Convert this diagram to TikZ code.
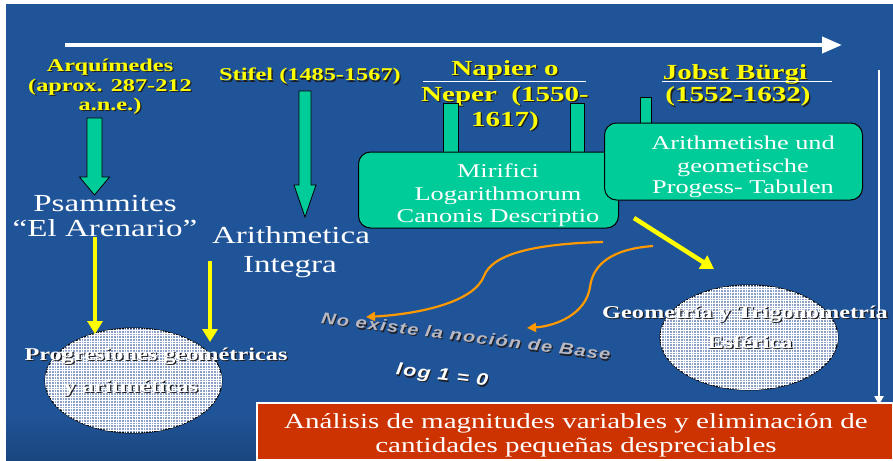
\documentclass[tikz,border=0pt]{standalone}
\usepackage{fontspec}
\setmainfont{Liberation Serif}[FakeStretch=1.35]
\newfontfamily\rotfont{Liberation Sans}[FakeStretch=1.25,LetterSpace=8]
\usetikzlibrary{arrows.meta,patterns}
\definecolor{bgdark}{RGB}{8,34,62}
\definecolor{bgmid}{RGB}{32,84,152}
\definecolor{bgtop}{RGB}{10,32,55}
\definecolor{gfill}{RGB}{0,204,153}
\definecolor{yel}{RGB}{255,255,0}
\definecolor{org}{RGB}{255,153,0}
\definecolor{redb}{RGB}{204,51,0}
\definecolor{ellfill}{RGB}{140,160,200}
\definecolor{shad}{RGB}{30,30,35}
\definecolor{rotgrey}{RGB}{185,185,195}
\pgfdeclareverticalshading{bgshade}{100bp}{color(0bp)=(bgdark); color(12bp)=(bgdark); color(30bp)=(bgmid); color(75bp)=(bgmid); color(90bp)=(bgtop); color(100bp)=(bgtop)}
\pgfdeclarepatternformonly{finegrid}{\pgfqpoint{-1pt}{-1pt}}{\pgfqpoint{4pt}{4pt}}{\pgfqpoint{2.7pt}{2.7pt}}{%
  \pgfsetlinewidth{0.9pt}%
  \pgfpathmoveto{\pgfqpoint{0pt}{0pt}}\pgfpathlineto{\pgfqpoint{0pt}{2.71pt}}%
  \pgfpathmoveto{\pgfqpoint{0pt}{0pt}}\pgfpathlineto{\pgfqpoint{2.71pt}{0pt}}%
  \pgfusepath{stroke}}
\newcommand\tnode[4]{\node[#1,text=shad,xshift=1.3pt,yshift=-1.3pt] at (#3) {#4};\node[#1] (#2) at (#3) {#4};}
\begin{document}
\begin{tikzpicture}[x=1pt,y=-1pt,
  every node/.style={inner sep=0pt,outer sep=0pt},
  ylab/.style={text=yel,anchor=base,font=\bfseries\fontsize{18}{20}\selectfont},
  nlab/.style={text=yel,anchor=base,font=\bfseries\fontsize{21.5}{24}\selectfont},
  wbig/.style={text=white,anchor=base,font=\fontsize{24.5}{28}\selectfont},
  wbox/.style={text=white,anchor=base,font=\fontsize{19.5}{22}\selectfont},
  wbot/.style={text=white,anchor=base,font=\fontsize{21.5}{24}\selectfont},
  ellab/.style={text=white,anchor=base,font=\bfseries\fontsize{18}{20}\selectfont},
  rotlab/.style={text=rotgrey,anchor=center,font=\rotfont\bfseries\itshape\fontsize{16}{18}\selectfont},
  loglab/.style={text=white,anchor=center,font=\rotfont\bfseries\itshape\fontsize{17}{19}\selectfont},
  gbox/.style={draw=black,line width=1pt,fill=gfill,rounded corners=12pt},
  garr/.style={draw=black,line width=0.8pt,fill=gfill},
  yarr/.style={draw=yel,line width=4.5pt,-{Triangle[length=13pt,width=15pt]}},
  oarr/.style={draw=org,line width=2.2pt,-{Triangle[length=9pt,width=9pt]}},
  ellsty/.style={draw=black,line width=1pt,fill=ellfill,postaction={pattern=finegrid,pattern color=white}},
]
\useasboundingbox (0,0) rectangle (893,460);
\fill[white] (0,0) rectangle (893,460);
\shade[shading=bgshade] (6,5) rectangle (893,460);

% timeline arrows
\coordinate (ta) at (65,45); \coordinate (tb) at (842,45);
\draw[white,line width=4pt,-{Triangle[length=20pt,width=16pt]}] (ta) -- (tb);
\coordinate (va) at (879,70); \coordinate (vb) at (879,405);
\draw[white,line width=2pt,-{Triangle[length=9pt,width=9pt]}] (va) -- (vb);

% yellow labels
\tnode{ylab}{arq1}{110,71}{Arquímedes}
\tnode{ylab}{arq2}{110,91}{(aprox. 287-212}
\tnode{ylab}{arq3}{110,110}{a.n.e.)}
\tnode{ylab}{stif}{310,81}{Stifel (1485-1567)}
\tnode{nlab}{nap1}{505,75}{Napier o}
\tnode{nlab}{nap2}{505,101.5}{Neper\ \ (1550-}
\tnode{nlab}{nap3}{505,126}{1617)}
\tnode{nlab}{job1}{735,79}{Jobst Bürgi}
\tnode{nlab}{job2}{738,101.7}{(1552-1632)}
\coordinate (nu1) at (423,81); \coordinate (nu2) at (586,81);
\draw[white,line width=0.9pt] (nu1) -- (nu2);
\coordinate (ju1) at (662,81); \coordinate (ju2) at (832,81);
\draw[white,line width=0.9pt] (ju1) -- (ju2);

% green block arrows
\draw[garr] (87,118) -- (102,118) -- (102,177) -- (109.5,177) -- (94.5,195) -- (79.5,177) -- (87,177) -- cycle;
\draw[garr] (299,91) -- (311,91) -- (311,185) -- (316,185) -- (305,217) -- (294,185) -- (299,185) -- cycle;

% stems
\draw[garr] (443.5,103) rectangle (458,160);
\draw[garr] (570,103) rectangle (584,160);
\draw[garr] (640,97) rectangle (651,130);

% green boxes
\node[gbox,minimum width=260pt,minimum height=76pt] (mir) at (488.5,190) {};
\node[wbox] (mir1) at (498,177) {Mirifici};
\node[wbox] (mir2) at (498,200) {Logarithmorum};
\node[wbox] (mir3) at (498,222) {Canonis Descriptio};
\node[gbox,minimum width=258pt,minimum height=77pt] (ari) at (733.5,161.5) {};
\node[wbox] (ari1) at (743,149) {Arithmetishe und};
\node[wbox] (ari2) at (743,172) {geometische};
\node[wbox] (ari3) at (743,193) {Progess- Tabulen};

% white big labels
\node[wbig] (psa1) at (105,211) {Psammites};
\node[wbig] (psa2) at (105,236) {“El Arenario”};
\node[wbig] (ait1) at (291,243) {Arithmetica};
\node[wbig] (ait2) at (290,272) {Integra};

% ellipses
\draw[ellsty] (133.5,380.5) ellipse [x radius=88.5, y radius=52.5];
\draw[ellsty] (749,337.5) ellipse [x radius=89, y radius=52.5];

% yellow arrows
\coordinate (ya1s) at (95,237); \coordinate (ya1e) at (95,334);
\coordinate (ya2s) at (210,261); \coordinate (ya2e) at (210,342);
\coordinate (ya3s) at (634,218); \coordinate (ya3e) at (714,269);
\draw[yarr] (ya1s) -- (ya1e);
\draw[yarr] (ya2s) -- (ya2e);
\draw[yarr] (ya3s) -- (ya3e);

% orange curves
\coordinate (o1s) at (603,242); \coordinate (o1e) at (366,317);
\coordinate (o2s) at (653,246); \coordinate (o2e) at (527,328);
\draw[oarr] (o1s) .. controls (530,244) and (492,255) .. (484,276) .. controls (474,302) and (420,314) .. (o1e);
\draw[oarr] (o2s) .. controls (612,249) and (593,264) .. (590,287) .. controls (586,314) and (556,326) .. (o2e);

% rotated texts
\tnode{rotlab,rotate=-7.3}{noex}{466,336}{No existe la noción de Base}
\tnode{loglab,rotate=-7}{logz}{442,376}{log 1 = 0}

% ellipse labels
\tnode{ellab}{pg1}{156,360}{Progresiones geométricas}
\tnode{ellab}{pg2}{131,392}{y aritméticas}
\tnode{ellab}{ge1}{745,318}{Geometría y Trigonometría}
\tnode{ellab}{ge2}{750,348}{Esférica}

% bottom box
\node[draw=white,line width=2pt,fill=redb,minimum width=636pt,minimum height=57pt,anchor=north west] (ana) at (257,403) {};
\node[wbot] (ana1) at (576,428) {Análisis de magnitudes variables y eliminación de};
\node[wbot] (ana2) at (576,452) {cantidades pequeñas despreciables};
\end{tikzpicture}
\end{document}
